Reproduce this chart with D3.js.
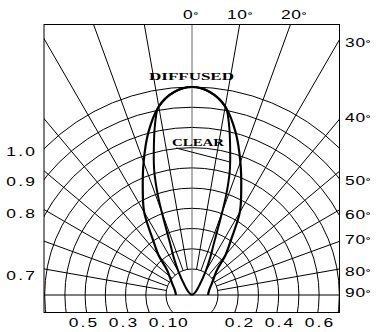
<!DOCTYPE html>
<html>
<head>
<meta charset="utf-8">
<script src="https://cdnjs.cloudflare.com/ajax/libs/d3/7.8.5/d3.min.js"></script>
<style>
  body { margin: 0; background: #fff; }
  svg { display: block; }
</style>
</head>
<body>
<svg></svg>
<script>
// relative intensity vs. angle off axis (deg); one half, mirrored for the other
let diffusedAngles = [0, 5, 10, 15, 20, 25, 30, 35, 40, 45, 60, 75, 90]
let diffusedValues = [1.0, 0.98, 0.92, 0.81, 0.68, 0.56, 0.46, 0.33, 0.25, 0.17, 0.11, 0.085, 0.077]

let clearAngles = [0, 5, 10, 12, 15, 17, 19, 21, 23, 26, 30, 37, 50, 90]
let clearValues = [1.0, 0.98, 0.92, 0.85, 0.71, 0.62, 0.5, 0.36, 0.27, 0.2, 0.13, 0.06, 0.02, 0]

let spokeAngles = [-90, -80, -70, -60, -50, -40, -30, -20, -10, 0, 10, 20, 30, 40, 50, 60, 70, 80, 90]
let ringIndex = [0, 1, 2, 3, 4, 5, 6, 7, 8, 9]

let topTicks = ['0', '10', '20']
let rightTicks = ['30', '40', '50', '60', '70', '80', '90']
let leftTicks = ['1.0', '0.9', '0.8', '0.7']
let bottomLeftTicks = [0.5, 0.3, 0.1, 0]
let bottomRightTicks = [0.2, 0.4, 0.6]

let width = 376
let height = 332
let frame = { left: 44, top: 24, right: 340, bottom: 312 }
let cx = 192
let cy = 295
let maxR = 208
let numFont = 'Liberation Sans'

let svg = d3.select('svg').attr('width', width).attr('height', height)

let rScale = d3.scaleLinear().domain([0, 1]).range([0, maxR])
let ringScale = d3.scaleLinear().domain([0, 9]).range([26, maxR])
let bottomScale = d3.scaleLinear().domain([0, 1]).range([8, 208])

let rad = (deg) => deg * Math.PI / 180
let polar = (deg, r) => [cx + r * Math.sin(rad(deg)), cy - r * Math.cos(rad(deg))]

svg.append('clipPath').attr('id', 'frameClip')
  .append('rect')
  .attr('x', frame.left).attr('y', frame.top)
  .attr('width', frame.right - frame.left).attr('height', frame.bottom - frame.top)

let grid = svg.append('g').attr('clip-path', 'url(#frameClip)')

// rings
grid.selectAll('circle')
  .data(ringIndex)
  .enter()
  .append('circle')
  .attr('cx', cx).attr('cy', cy)
  .attr('r', (d) => ringScale(d))
  .attr('fill', 'none')
  .attr('stroke', '#000')
  .attr('stroke-width', 1)

// spokes
grid.selectAll('line.spoke')
  .data(spokeAngles)
  .enter()
  .append('line')
  .attr('class', 'spoke')
  .attr('x1', (a) => polar(a, (a === 0 || Math.abs(a) === 90) ? 0 : ringScale(0))[0])
  .attr('y1', (a) => polar(a, (a === 0 || Math.abs(a) === 90) ? 0 : ringScale(0))[1])
  .attr('x2', (a) => polar(a, 500)[0])
  .attr('y2', (a) => polar(a, 500)[1])
  .attr('stroke', (a) => a === 0 ? '#666' : '#000')
  .attr('stroke-width', 1)

// frame
svg.append('rect')
  .attr('x', frame.left).attr('y', frame.top + 0.5)
  .attr('width', frame.right - frame.left - 0.5).attr('height', frame.bottom - frame.top)
  .attr('fill', 'none')
  .attr('stroke', '#000')
  .attr('stroke-width', 1)

// patterns
let mirror = (angles, values) => {
  let half = angles.map((a, i) => ({ a: a, v: values[i] }))
  let left = half.slice(1).reverse().map((d) => ({ a: -d.a, v: d.v }))
  return left.concat(half)
}

let radial = d3.lineRadial()
  .angle((d) => rad(d.a))
  .radius((d) => rScale(d.v))
  .curve(d3.curveCatmullRom)

let curves = svg.append('g').attr('transform', 'translate(' + cx + ',' + cy + ')')

curves.append('path')
  .attr('d', radial(mirror(diffusedAngles, diffusedValues)))
  .attr('fill', 'none')
  .attr('stroke', '#000')
  .attr('stroke-width', 2.2)

curves.append('path')
  .attr('d', radial(mirror(clearAngles, clearValues)))
  .attr('fill', 'none')
  .attr('stroke', '#000')
  .attr('stroke-width', 2)

// curve labels
svg.append('text')
  .attr('x', cx - 43).attr('y', cy - rScale(1) - 7)
  .attr('textLength', 85)
  .attr('lengthAdjust', 'spacingAndGlyphs')
  .style('font-family', 'Liberation Serif')
  .style('font-weight', 'bold')
  .style('font-size', '10px')
  .text('DIFFUSED')

svg.append('text')
  .attr('x', 172).attr('y', 146)
  .attr('textLength', 52)
  .attr('lengthAdjust', 'spacingAndGlyphs')
  .style('font-family', 'Liberation Serif')
  .style('font-weight', 'bold')
  .style('font-size', '10px')
  .text('CLEAR')

let leaderEnd = polar(16, rScale(0.665))
svg.append('line')
  .attr('x1', 176).attr('y1', 148)
  .attr('x2', leaderEnd[0]).attr('y2', leaderEnd[1])
  .attr('stroke', '#000')
  .attr('stroke-width', 1)

// tick labels (wide, thin lettering)
let label = (x, y, txt, anchor, spacing, degree) => {
  let t = svg.append('text')
    .attr('transform', 'translate(' + x + ',' + y + ') scale(1.45,1)')
    .attr('text-anchor', anchor)
    .style('font-family', numFont)
    .style('font-size', '12px')
    .style('letter-spacing', spacing + 'px')
    .attr('fill', '#000')
  t.append('tspan').text(txt)
  if (degree) {
    t.append('tspan').attr('dy', -1).style('font-size', '8px').style('font-weight', 'bold').text('°')
  }
}

let topX = [191, 240, 294]
topTicks.forEach((d, i) => label(topX[i], 19, d, 'middle', 0.5, true))

let rightY = [43, 118, 181, 215, 240, 272, 293]
rightTicks.forEach((d, i) => label(345, rightY[i] + 4, d, 'start', 0.5, true))

let leftY = [152, 182, 214, 276]
leftTicks.forEach((d, i) => label(37, leftY[i] + 4, d, 'end', 1.5, false))

let fmt = (v) => v === 0 ? '0' : v.toFixed(1)
bottomLeftTicks.forEach((v) => label(cx - bottomScale(v), 327, fmt(v), 'middle', 1.5, false))
bottomRightTicks.forEach((v) => label(cx + bottomScale(v), 327, fmt(v), 'middle', 1.5, false))
</script>
</body>
</html>
